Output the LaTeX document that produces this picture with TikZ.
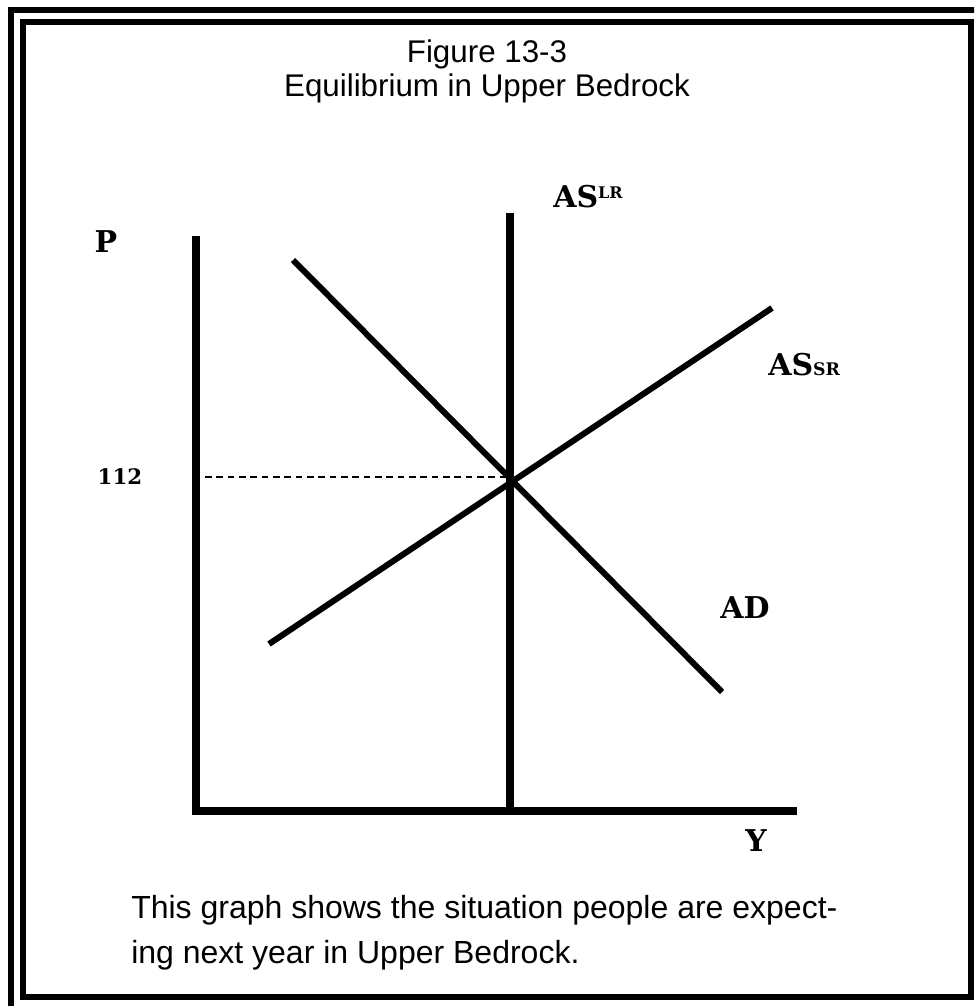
\documentclass[tikz,border=0pt]{standalone}
\usepackage{fontspec}
\newfontfamily\arial{Liberation Sans}
\newfontfamily\heavyserif{DejaVu Serif}
\begin{document}
\begin{tikzpicture}[x=0.75pt,y=-0.75pt,
  frame/.style={line width=4.5pt},
  axis/.style={line width=5.5pt},
  curve/.style={line width=4.5pt},
  guide/.style={line width=1.1pt,dash pattern=on 5pt off 3.5pt},
  lbl/.style={inner sep=0pt,font=\heavyserif\bfseries\fontsize{22.5}{22.5}\selectfont},
  txt/.style={inner sep=0pt,font=\arial\fontsize{24}{30}\selectfont}]
\useasboundingbox (0,0) rectangle (974,1006);
\begin{scope}
\clip (0,0) rectangle (974,1006);
\draw[frame] (11,10) rectangle (1040,1060);
\draw[frame] (23,22) rectangle (971,997);
\end{scope}
% title
\node[txt,anchor=base,font=\arial\fontsize{23.5}{23.5}\selectfont] (title1) at (487,63) {Figure 13-3};
\node[txt,anchor=base,font=\arial\fontsize{23.5}{23.5}\selectfont] (title2) at (487,96) {Equilibrium in Upper Bedrock};
% coordinates
\coordinate (ytop) at (196,236);
\coordinate (xend) at (797,811);
\coordinate (lrtop) at (510,213);
\coordinate (lrbot) at (510,811);
\coordinate (adtop) at (293,260);
\coordinate (adbot) at (722,692);
\coordinate (srbot) at (269,644);
\coordinate (srtop) at (772,308);
\coordinate (eq) at (510,477);
\coordinate (pstart) at (205,477);
\coordinate (ybot) at (196,814.5);
\coordinate (xstart) at (192.5,811);
% axes and curves
\draw[axis] (ytop) -- (ybot);
\draw[axis] (xstart) -- (xend);
\draw[axis] (lrtop) -- (lrbot);
\draw[curve] (adtop) -- (adbot);
\draw[curve] (srbot) -- (srtop);
\draw[guide] (pstart) -- (eq);
% labels
\node[lbl] (P) at (106,242) {P};
\node[lbl,font=\heavyserif\bfseries\fontsize{16}{16}\selectfont] (p112) at (120,477) {112};
\node[lbl,anchor=base west] (aslr) at (553,207) {AS\raisebox{6.5pt}{\fontsize{12}{12}\selectfont LR}};
\node[lbl,anchor=base west] (assr) at (768,375) {AS\fontsize{13}{13}\selectfont SR};
\node[lbl,anchor=base west] (AD) at (720,618) {AD};
\node[lbl] (Y) at (756,841) {Y};
% caption
\node[txt,anchor=base west] (cap) at (131,918) {This graph shows the situation people are expect-};
\node[txt,anchor=base west] (cap2) at (131,963) {ing next year in Upper Bedrock.};
\end{tikzpicture}
\end{document}
